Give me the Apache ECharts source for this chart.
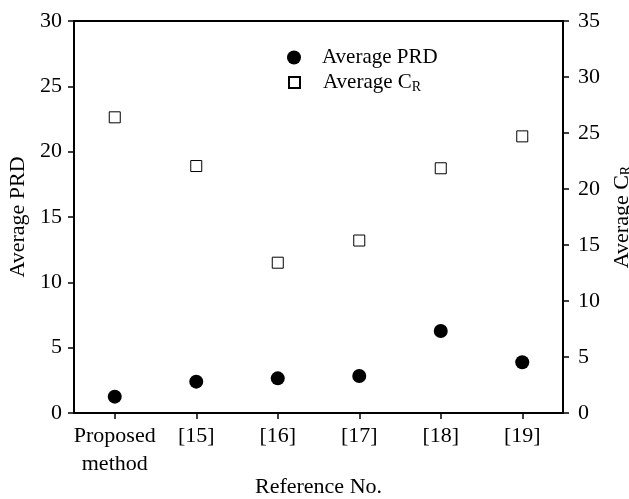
<!DOCTYPE html>
<html><head><meta charset="utf-8">
<script src="https://cdn.jsdelivr.net/npm/echarts@6/dist/echarts.min.js"></script>
<style>html,body{margin:0;padding:0;background:#fff}#c{width:629px;height:499px}</style>
</head><body><div id="c"></div>
<script>
var categories = ['Proposed\nmethod', '[15]', '[16]', '[17]', '[18]', '[19]'];
var avgPRD = [1.25, 2.4, 2.65, 2.83, 6.27, 3.88];
var avgCR = [26.4, 22.05, 13.42, 15.4, 21.85, 24.7];
var leftTicks = {min: 0, max: 30, interval: 5};
var rightTicks = {min: 0, max: 35, interval: 5};

var F = 'Liberation Serif';
var FS = 22;
var chart = echarts.init(document.getElementById('c'));
var axisCommon = {
  axisLine: {show: true, lineStyle: {color: '#000', width: 2}},
  axisTick: {show: true, inside: false, length: 6, lineStyle: {color: '#000', width: 1.5}},
  splitLine: {show: false}
};
var sub = {s: {fontFamily: F, fontSize: 14, verticalAlign: 'bottom', padding: [9, 0, 0, 0], color: '#000'}};
chart.setOption({
  animation: false,
  backgroundColor: '#fff',
  grid: {left: 74, right: 66, top: 21, bottom: 86, outerBoundsMode: 'none', containLabel: false,
         show: true, borderColor: '#000', borderWidth: 2, backgroundColor: 'transparent'},
  legend: [
    {data: [{name: 'Average PRD', icon: 'circle'}], left: 282, top: 42, itemWidth: 14, itemHeight: 14,
     textStyle: {color: '#000', fontFamily: F, fontSize: 21, padding: [0, 0, 0, 16]}},
    {data: [{name: 'Average CR', icon: 'rect'}], left: 283, top: 67, itemWidth: 11, itemHeight: 11,
     formatter: function(){ return 'Average C{s|R}'; },
     textStyle: {color: '#000', fontFamily: F, fontSize: 21, padding: [0, 0, 0, 18], rich: sub}}
  ],
  xAxis: Object.assign({}, axisCommon, {
    type: 'category', data: categories, boundaryGap: true,
    axisTick: {show: true, alignWithLabel: true, length: 6, lineStyle: {color: '#000', width: 1.5}},
    axisLabel: {color: '#000', fontFamily: F, fontSize: FS, lineHeight: 28, margin: 9, interval: 0},
    name: 'Reference No.', nameLocation: 'middle', nameGap: 63, nameMoveOverlap: false,
    nameTextStyle: {color: '#000', fontFamily: F, fontSize: FS}
  }),
  yAxis: [
    Object.assign({}, axisCommon, {
      type: 'value', position: 'left', min: leftTicks.min, max: leftTicks.max, interval: leftTicks.interval,
      axisLabel: {color: '#000', fontFamily: F, fontSize: FS, margin: 12},
      name: 'Average PRD', nameLocation: 'middle', nameGap: 43, nameRotate: 90,
      nameTextStyle: {color: '#000', fontFamily: F, fontSize: FS}
    }),
    Object.assign({}, axisCommon, {
      type: 'value', position: 'right', min: rightTicks.min, max: rightTicks.max, interval: rightTicks.interval,
      axisLabel: {color: '#000', fontFamily: F, fontSize: FS, margin: 15},
      name: 'Average C{s|R}', nameLocation: 'middle', nameGap: 46, nameRotate: 90,
      nameTextStyle: {color: '#000', fontFamily: F, fontSize: FS, rich: sub}
    })
  ],
  series: [
    {name: 'Average PRD', type: 'scatter', yAxisIndex: 0, data: avgPRD, symbol: 'circle', symbolSize: 14,
     itemStyle: {color: '#000', opacity: 1}},
    {name: 'Average CR', type: 'scatter', yAxisIndex: 1, data: avgCR, symbol: 'rect', symbolSize: 11,
     itemStyle: {color: '#fff', borderColor: '#000', borderWidth: 1, opacity: 1}}
  ]
});
</script></body></html>
